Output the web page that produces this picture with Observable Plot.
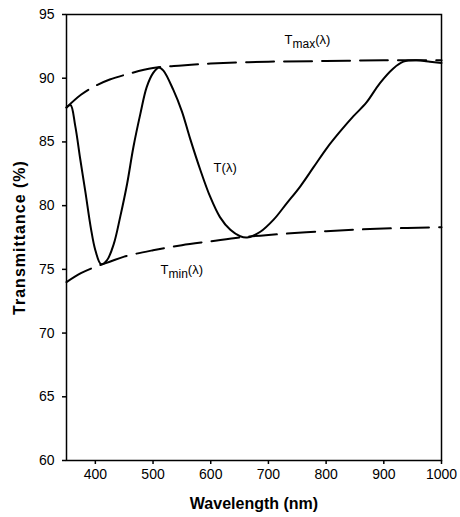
<!DOCTYPE html>
<html>
<head>
<meta charset="utf-8">
<script src="https://cdn.jsdelivr.net/npm/d3@7"></script>
<script src="https://cdn.jsdelivr.net/npm/@observablehq/plot@0.6"></script>
<style>
  html, body { margin: 0; padding: 0; background: white; }
  #chart { width: 460px; height: 517px; }
</style>
</head>
<body>
<div id="chart"></div>
<script>
// Measured transmittance T(λ)
const wavelength = [350, 357, 365, 374, 383, 392, 400, 410, 420, 432, 443, 455, 466, 478, 489, 500, 510, 518, 535, 550, 564, 582, 599, 616, 634, 651, 663, 686, 709, 732, 755, 778, 801, 824, 847, 870, 893, 916, 934, 957, 980, 1000];
const transmittance = [87.7, 87.9, 86.3, 83.6, 81.0, 78.3, 76.5, 75.4, 75.7, 77.0, 79.1, 81.7, 84.6, 87.2, 89.3, 90.4, 90.85, 90.6, 89.1, 87.4, 85.3, 82.8, 80.7, 79.1, 78.1, 77.6, 77.5, 77.95, 78.9, 80.2, 81.5, 83.0, 84.5, 85.8, 87.0, 88.1, 89.6, 90.75, 91.3, 91.4, 91.3, 91.2];

// Upper envelope Tmax(λ)
const tmaxWavelength = [350, 375, 400, 425, 450, 500, 550, 600, 700, 800, 900, 1000];
const tmaxValue = [87.7, 88.7, 89.4, 89.9, 90.25, 90.8, 91.0, 91.15, 91.3, 91.35, 91.4, 91.4];

// Lower envelope Tmin(λ)
const tminWavelength = [350, 375, 400, 425, 450, 500, 550, 600, 650, 700, 800, 900, 1000];
const tminValue = [74.0, 74.7, 75.2, 75.6, 76.0, 76.5, 76.9, 77.2, 77.5, 77.7, 78.0, 78.2, 78.3];

// Ticks
const xTicks = [400, 500, 600, 700, 800, 900, 1000];
const yTicks = [60, 65, 70, 75, 80, 85, 90, 95];

// Curve labels (anchor in data units)
const labelText = ["Tmax(λ)", "T(λ)", "Tmin(λ)"];
const labelX = [728, 605, 513];
const labelY = [93.0, 83.0, 74.95];

const toRows = (xs, ys) => xs.map((x, i) => ({x, y: ys[i]}));
const tRows = toRows(wavelength, transmittance);
const maxRows = toRows(tmaxWavelength, tmaxValue);
const minRows = toRows(tminWavelength, tminValue);
const labels = labelText.map((t, i) => ({t, x: labelX[i], y: labelY[i]}));

const dash = "28,10";

const chart = Plot.plot({
  width: 460,
  height: 517,
  marginLeft: 66,
  marginRight: 19,
  marginTop: 14,
  marginBottom: 57,
  style: {fontFamily: "'Liberation Sans', Arial, sans-serif", fontSize: "14px", background: "white", color: "black"},
  x: {domain: [350, 1000]},
  y: {domain: [60, 95]},
  marks: [
    Plot.axisX(xTicks, {tickSize: 4, tickPadding: 5, label: null, fontSize: 14, strokeWidth: 1.5, tickFormat: d => String(d)}),
    Plot.axisY(yTicks, {tickSize: 4, tickPadding: 8, label: null, fontSize: 14, strokeWidth: 1.5, tickFormat: d => String(d)}),
    Plot.frame({strokeWidth: 1.5}),
    Plot.line(maxRows, {x: "x", y: "y", curve: "catmull-rom", strokeWidth: 2, strokeDasharray: dash}),
    Plot.line(minRows, {x: "x", y: "y", curve: "catmull-rom", strokeWidth: 2, strokeDasharray: dash}),
    Plot.line(tRows, {x: "x", y: "y", curve: "catmull-rom", strokeWidth: 2}),
    Plot.text(labels, {x: "x", y: "y", text: "t", textAnchor: "start", lineAnchor: "middle", fontSize: 13}),
    Plot.text(["Wavelength (nm)"], {frameAnchor: "bottom", textAnchor: "middle", lineAnchor: "middle", dy: 43, fontWeight: "bold", fontSize: 16}),
    Plot.text(["Transmittance (%)"], {frameAnchor: "left", textAnchor: "middle", lineAnchor: "middle", dx: -47, rotate: -90, fontWeight: "bold", fontSize: 16})
  ]
});

// Render subscripts (max / min) as real tspans
d3.select(chart).selectAll("text").each(function() {
  const el = d3.select(this);
  const s = el.text();
  const m = /^T(max|min)\(λ\)$/.exec(s);
  if (m) {
    el.text(null);
    el.append("tspan").text("T");
    el.append("tspan").attr("dy", "0.35em").attr("font-size", 12).text(m[1]);
    el.append("tspan").attr("dy", "-0.35em").text("(λ)");
  }
  if (s === "Transmittance (%)") el.attr("letter-spacing", "1px");
});

document.getElementById("chart").appendChild(chart);
</script>
</body>
</html>
